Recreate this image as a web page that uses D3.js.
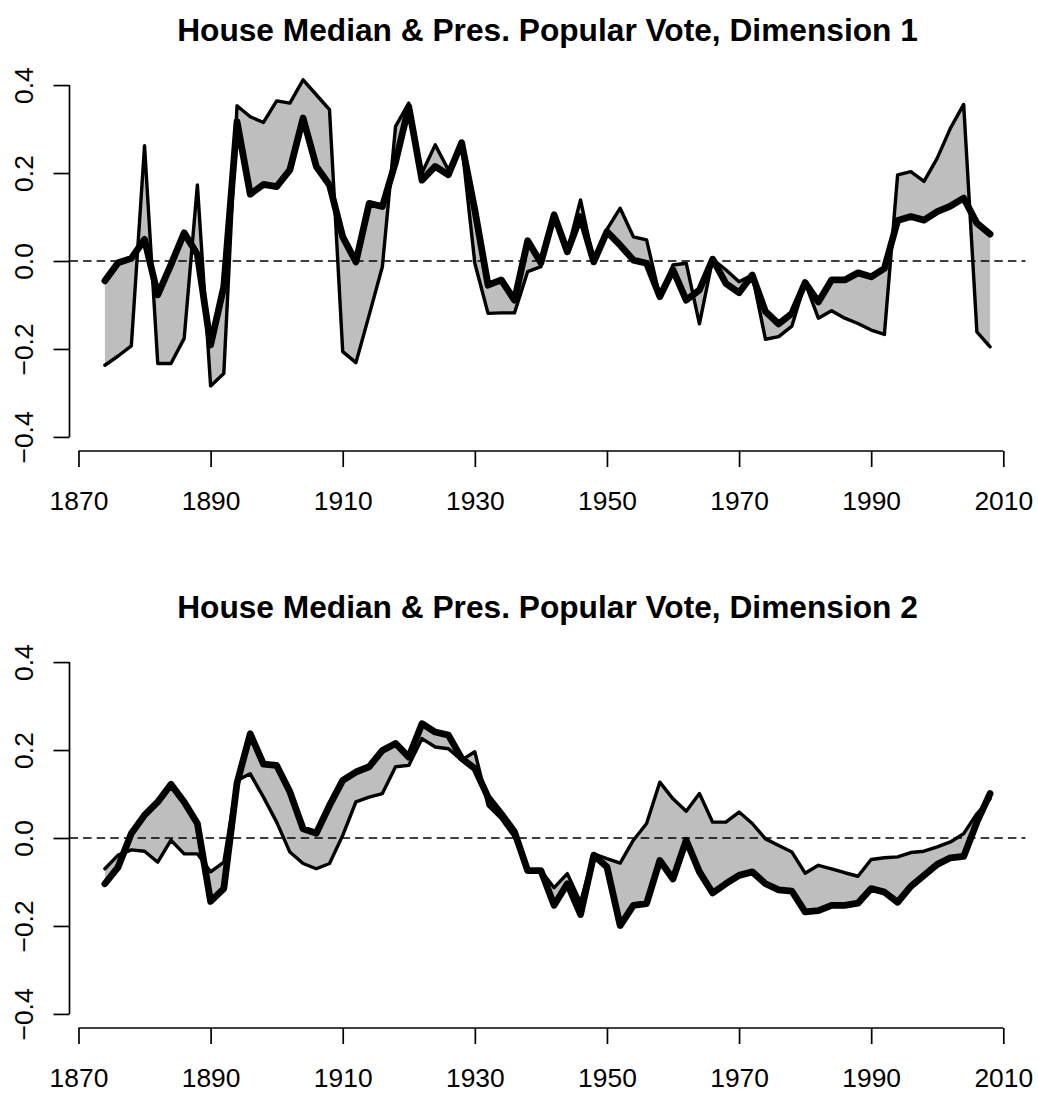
<!DOCTYPE html>
<html>
<head>
<meta charset="utf-8">
<script src="https://cdn.jsdelivr.net/npm/d3@7"></script>
<style>
body { margin: 0; background: #fff; }
text { font-family: "Liberation Sans", Arial, Helvetica, sans-serif; }
</style>
</head>
<body>
<script>
var canvasWidth = 1038;
var canvasHeight = 1094;

// election years, one point every two years
var years = [1874, 1876, 1878, 1880, 1882, 1884, 1886, 1888, 1890, 1892, 1894, 1896, 1898, 1900, 1902, 1904,
	1906, 1908, 1910, 1912, 1914, 1916, 1918, 1920, 1922, 1924, 1926, 1928, 1930, 1932, 1934, 1936, 1938,
	1940, 1942, 1944, 1946, 1948, 1950, 1952, 1954, 1956, 1958, 1960, 1962, 1964, 1966, 1968, 1970, 1972,
	1974, 1976, 1978, 1980, 1982, 1984, 1986, 1988, 1990, 1992, 1994, 1996, 1998, 2000, 2002, 2004, 2006, 2008];

// dimension 1
var presDim1 = [-0.237, -0.216, -0.193, 0.262, -0.233, -0.233, -0.176, 0.173, -0.284, -0.256, 0.353, 0.328, 0.315, 0.364, 0.359, 0.412,
	0.378, 0.344, -0.206, -0.231, -0.123, -0.013, 0.306, 0.359, 0.200, 0.264, 0.207, 0.269, -0.005, -0.119, -0.118, -0.118, -0.024,
	-0.013, 0.105, 0.021, 0.139, -0.002, 0.072, 0.120, 0.055, 0.048, -0.081, -0.009, -0.005, -0.143, 0.004, -0.020, -0.047, -0.032,
	-0.178, -0.172, -0.148, -0.049, -0.130, -0.113, -0.130, -0.142, -0.157, -0.167, 0.196, 0.203, 0.181, 0.234, 0.302, 0.356, -0.161, -0.195];
var houseDim1 = [-0.045, -0.004, 0.006, 0.049, -0.077, -0.008, 0.064, 0.015, -0.191, -0.058, 0.317, 0.152, 0.174, 0.169, 0.207, 0.325,
	0.215, 0.173, 0.055, -0.002, 0.131, 0.124, 0.225, 0.351, 0.184, 0.215, 0.196, 0.269, 0.116, -0.055, -0.043, -0.089, 0.046,
	-0.004, 0.105, 0.021, 0.101, -0.002, 0.067, 0.036, 0.002, -0.005, -0.081, -0.020, -0.089, -0.066, 0.004, -0.051, -0.072, -0.032,
	-0.115, -0.143, -0.119, -0.049, -0.093, -0.043, -0.043, -0.027, -0.036, -0.017, 0.092, 0.101, 0.093, 0.112, 0.125, 0.143, 0.086, 0.061];

// dimension 2
var presDim2 = [-0.070, -0.039, -0.027, -0.030, -0.055, -0.005, -0.036, -0.036, -0.077, -0.055, 0.131, 0.146, 0.093, 0.036, -0.032, -0.058,
	-0.070, -0.058, 0.006, 0.082, 0.093, 0.101, 0.162, 0.165, 0.226, 0.207, 0.203, 0.177, 0.196, 0.074, 0.044, 0.002, -0.074,
	-0.074, -0.113, -0.081, -0.146, -0.036, -0.047, -0.057, -0.005, 0.033, 0.127, 0.089, 0.061, 0.101, 0.036, 0.036, 0.059, 0.033,
	-0.002, -0.017, -0.032, -0.080, -0.062, -0.070, -0.079, -0.087, -0.049, -0.045, -0.043, -0.033, -0.030, -0.020, -0.009, 0.010, 0.055, 0.089];
var houseDim2 = [-0.104, -0.066, 0.010, 0.052, 0.082, 0.122, 0.082, 0.033, -0.144, -0.115, 0.125, 0.237, 0.168, 0.165, 0.105, 0.021,
	0.011, 0.074, 0.131, 0.150, 0.162, 0.199, 0.215, 0.184, 0.260, 0.241, 0.234, 0.181, 0.158, 0.093, 0.055, 0.014, -0.074,
	-0.074, -0.153, -0.104, -0.174, -0.039, -0.066, -0.199, -0.153, -0.149, -0.051, -0.093, -0.005, -0.077, -0.125, -0.104, -0.085, -0.077,
	-0.104, -0.118, -0.121, -0.168, -0.165, -0.153, -0.153, -0.148, -0.115, -0.123, -0.146, -0.110, -0.085, -0.060, -0.045, -0.042, 0.036, 0.101];

var xTicks = [1870, 1890, 1910, 1930, 1950, 1970, 1990, 2010];
var yTicks = [-0.4, -0.2, 0.0, 0.2, 0.4];
var titles = ["House Median & Pres. Popular Vote, Dimension 1",
	"House Median & Pres. Popular Vote, Dimension 2"];

var plotLeft = 69.5, plotRight = 1025.5;
var plotHeight = 380;
var panelTops = [71, 648];
var axisFont = 26.4, titleFont = 31.7;
var lwd = 1.7;

var svg = d3.select("body").append("svg")
	.attr("width", canvasWidth)
	.attr("height", canvasHeight);

var xScale = d3.scaleLinear()
	.domain([1868.64, 2013.36])
	.range([plotLeft, plotRight]);

function drawPanel(idx, pres, house) {
	var top = panelTops[idx];
	var yScale = d3.scaleLinear()
		.domain([-0.432, 0.432])
		.range([top + plotHeight, top]);

	var g = svg.append("g");

	// title
	g.append("text")
		.attr("x", (plotLeft + plotRight) / 2)
		.attr("y", top - 30)
		.attr("text-anchor", "middle")
		.style("font-size", titleFont + "px")
		.style("font-weight", "bold")
		.text(titles[idx]);

	// gray band between the two series
	var area = d3.area()
		.x(function(d, i) { return xScale(years[i]); })
		.y0(function(d, i) { return yScale(pres[i]); })
		.y1(function(d, i) { return yScale(house[i]); });

	g.append("path")
		.attr("d", area(years))
		.attr("fill", "#bebebe")
		.attr("stroke", "none");

	// zero reference line
	g.append("line")
		.attr("x1", plotLeft).attr("x2", plotRight)
		.attr("y1", yScale(0)).attr("y2", yScale(0))
		.attr("stroke", "#000")
		.attr("stroke-width", lwd)
		.attr("stroke-dasharray", "8.5,5.1");

	var line = d3.line()
		.x(function(d, i) { return xScale(years[i]); })
		.y(function(d) { return yScale(d); });

	g.append("path")
		.attr("d", line(pres))
		.attr("fill", "none")
		.attr("stroke", "#000")
		.attr("stroke-width", 2 * lwd)
		.attr("stroke-linejoin", "round")
		.attr("stroke-linecap", "round");

	g.append("path")
		.attr("d", line(house))
		.attr("fill", "none")
		.attr("stroke", "#000")
		.attr("stroke-width", 4 * lwd)
		.attr("stroke-linejoin", "round")
		.attr("stroke-linecap", "round");

	// x axis, R style: line only between first and last tick
	var xAxis = g.append("g")
		.attr("transform", "translate(0," + (top + plotHeight) + ")")
		.call(d3.axisBottom(xScale).tickValues(xTicks).tickSize(16).tickFormat(d3.format("d")));
	xAxis.select(".domain").remove();
	xAxis.append("line")
		.attr("x1", xScale(xTicks[0])).attr("x2", xScale(xTicks[xTicks.length - 1]))
		.attr("stroke", "#000");
	xAxis.selectAll("line").attr("stroke-width", lwd);
	xAxis.selectAll("text")
		.attr("y", 59)
		.attr("dy", 0)
		.attr("fill", "#000")
		.style("font-size", axisFont + "px")
		.style("font-family", "'Liberation Sans', Arial, Helvetica, sans-serif");

	// y axis with rotated labels
	var yAxis = g.append("g")
		.attr("transform", "translate(" + plotLeft + ",0)")
		.call(d3.axisLeft(yScale).tickValues(yTicks).tickSize(16).tickFormat(d3.format(".1f")));
	yAxis.select(".domain").remove();
	yAxis.append("line")
		.attr("y1", yScale(yTicks[0])).attr("y2", yScale(yTicks[yTicks.length - 1]))
		.attr("stroke", "#000");
	yAxis.selectAll("line").attr("stroke-width", lwd);
	yAxis.selectAll("text")
		.attr("transform", "rotate(-90)")
		.attr("x", 0)
		.attr("y", -36.2)
		.attr("dy", 0)
		.attr("text-anchor", "middle")
		.attr("fill", "#000")
		.text(function(d) { return d3.format(".1f")(d).replace("-", "\u2212"); })
		.style("font-size", axisFont + "px")
		.style("font-family", "'Liberation Sans', Arial, Helvetica, sans-serif");
}

drawPanel(0, presDim1, houseDim1);
drawPanel(1, presDim2, houseDim2);
</script>
</body>
</html>
